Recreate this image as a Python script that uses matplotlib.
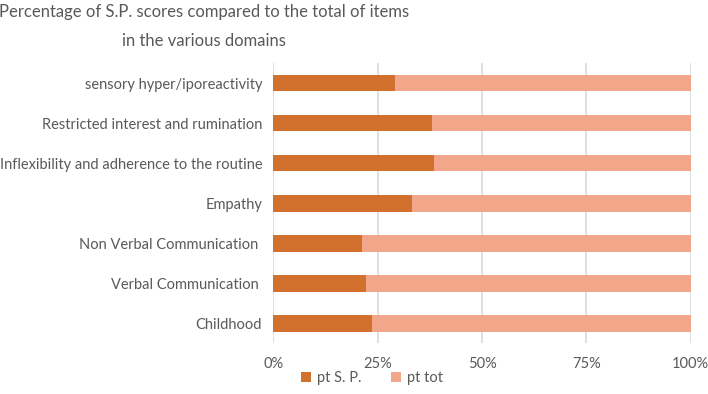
import numpy as np
import matplotlib.pyplot as plt

plt.rcParams['font.family'] = ['Lato', 'DejaVu Sans']

# categories from bottom to top
domains = ['Childhood', 'Verbal Communication ', 'Non Verbal Communication ',
           'Empathy', 'Inflexibility and adherence to the routine',
           'Restricted interest and rumination', 'sensory hyper/iporeactivity']
pt_sp = [23.6, 22.1, 21.3, 33.2, 38.5, 38.0, 29.2]     # % of S.P. scores
pt_tot = [76.4, 77.9, 78.7, 66.8, 61.5, 62.0, 70.8]    # remainder of items
xticks = [0, 25, 50, 75, 100]

dark = '#D2702D'
light = '#F2A78A'
grey = '#595959'

fig = plt.figure(figsize=(7.08, 3.94), dpi=100)
ax = fig.add_axes([0.386, 0.129, 0.5896, 0.711])

y = np.arange(len(domains))
ax.barh(y, pt_sp, height=0.42, color=dark, label='pt S. P.', zorder=3)
ax.barh(y, pt_tot, left=pt_sp, height=0.42, color=light, label='pt tot', zorder=3)

ax.set_xlim(0, 100)
ax.set_ylim(-0.5, len(domains) - 0.5)
ax.set_xticks(xticks)
ax.set_xticklabels([f'{t}%' for t in xticks])
ax.set_yticks(y)
ax.set_yticklabels(domains)
ax.tick_params(axis='both', length=0, labelsize=10.5, colors=grey)
ax.tick_params(axis='x', pad=10)
ax.tick_params(axis='y', pad=8)
ax.grid(axis='x', color='#D9D9D9', linewidth=1.2, zorder=0)
for s in ax.spines.values():
    s.set_visible(False)

fig.text(0.288, 0.99, 'Percentage of S.P. scores compared to the total of items\nin the various domains',
         ha='center', va='top', fontsize=12, color=grey, linespacing=2.0)

fig.legend(loc='center', bbox_to_anchor=(0.525, 0.04), ncol=2, frameon=False,
           fontsize=10.5, labelcolor=grey, handlelength=0.7, handleheight=0.7,
           handletextpad=0.4, columnspacing=2.0)

fig.savefig('out.png', dpi=100)
